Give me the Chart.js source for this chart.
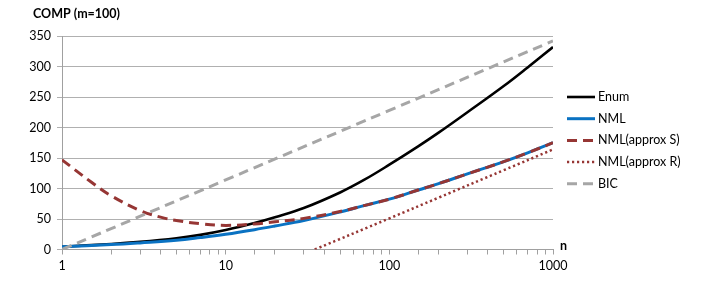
<!DOCTYPE html>
<html>
<head>
<meta charset="utf-8">
<script src="https://cdn.jsdelivr.net/npm/chart.js@4/dist/chart.umd.min.js"></script>
<style>
html,body{margin:0;padding:0;background:#fff;}
#wrap{width:706px;height:283px;position:relative;}
</style>
</head>
<body>
<div id="wrap"><canvas id="c" width="706" height="283"></canvas></div>
<script>
// ---- data ----
const yTitle = "COMP (m=100)";
const xTitle = "n";
const seriesNames = ["Enum", "NML", "NML(approx S)", "NML(approx R)", "BIC"];

const nMain = [1, 2, 3, 5, 7, 10, 15, 20, 30, 50, 70, 100, 150, 200, 300, 500, 700, 1000];
const enumVals = [4.6, 9, 12.5, 18.5, 24, 32, 43.5, 53, 68, 93.5, 114, 139, 169, 191.5, 225, 268, 298.5, 332];
const nmlVals  = [4.6, 8, 10.8, 15, 19.5, 25, 32.5, 38.5, 47.5, 61.5, 72, 82.5, 97.5, 108, 124, 144, 158.5, 175];

const nApproxS = [1, 1.5, 2, 3, 4, 5, 7, 10, 15, 20, 30, 50, 70, 100, 150, 200, 300, 500, 700, 1000];
const approxSVals = [147, 111, 88, 64, 53, 47.5, 42.3, 39.5, 42, 45.4, 51, 62.3, 72, 82.5, 97.5, 108, 124, 144, 158.5, 175];

const nApproxR = [35, 100, 200, 500, 1000];
const approxRVals = [0, 51, 85, 130, 164];

const nBic = [1, 10, 100, 1000];
const bicVals = [0, 114, 228, 342];

const xTickLabels = [1, 10, 100, 1000];

function pts(xs, ys){ return xs.map((x,i)=>({x:x, y:ys[i]})); }

const FONT = "Lato, 'Open Sans', 'DejaVu Sans', sans-serif";

const styles = [
  {color:'#000000', width:2.6, dash:[]},
  {color:'#0a72c2', width:3, dash:[]},
  {color:'#963634', width:3, dash:[10,6]},
  {color:'#963634', width:2.5, dash:[2.2,2.8]},
  {color:'#a6a6a6', width:3, dash:[10,6]}
];

const datasets = [
  pts(nMain, enumVals),
  pts(nMain, nmlVals),
  pts(nApproxS, approxSVals),
  pts(nApproxR, approxRVals),
  pts(nBic, bicVals)
].map((d,i)=>({
  label: seriesNames[i],
  data: d,
  borderColor: styles[i].color,
  backgroundColor: styles[i].color,
  borderWidth: styles[i].width,
  borderDash: styles[i].dash,
  pointRadius: 0,
  fill: false,
  tension: 0.4,
  order: 5 - i
}));

const legendPlugin = {
  id: 'customLegend',
  afterDraw(chart){
    const ctx = chart.ctx;
    const area = chart.chartArea;
    ctx.save();
    ctx.font = "bold 12.5px " + FONT;
    ctx.fillStyle = '#000';
    ctx.textBaseline = 'middle';
    ctx.textAlign = 'left';
    ctx.fillText(yTitle, 33, 14);
    ctx.fillText(xTitle, area.right + 7, area.bottom - 4);
    ctx.font = "12.5px " + FONT;
    const x0 = area.right + 14, x1 = area.right + 42, tx = area.right + 45;
    chart.data.datasets.forEach((ds, i) => {
      const y = 97 + i * 21.7;
      ctx.beginPath();
      ctx.strokeStyle = ds.borderColor;
      ctx.lineWidth = ds.borderWidth;
      ctx.setLineDash(ds.borderDash || []);
      ctx.moveTo(x0, y);
      ctx.lineTo(x1, y);
      ctx.stroke();
      ctx.setLineDash([]);
      ctx.fillStyle = '#000';
      ctx.fillText(ds.label, tx, y);
    });
    ctx.restore();
  }
};

new Chart(document.getElementById('c'), {
  type: 'line',
  data: { datasets: datasets },
  options: {
    responsive: false,
    animation: false,
    events: [],
    layout: { padding: { left: 0, top: 36, right: 153, bottom: 0 } },
    plugins: { legend: { display: false }, tooltip: { enabled: false }, title: { display: false } },
    scales: {
      x: {
        type: 'logarithmic',
        min: 1, max: 1000,
        afterFit(s){ s.height = 33.5; },
        border: { display: true, color: '#a0a0a0', width: 1 },
        grid: { display: true, drawOnChartArea: false, drawTicks: true, tickLength: 5, color: '#a0a0a0' },
        ticks: {
          autoSkip: false, maxRotation: 0, padding: 4,
          color: '#000', font: { family: FONT, size: 12.5 },
          callback(v){ return xTickLabels.includes(v) ? String(v) : ''; }
        }
      },
      y: {
        type: 'linear',
        min: 0, max: 350,
        afterFit(s){ s.width = 62; },
        border: { display: true, color: '#a0a0a0', width: 1 },
        grid: { display: true, drawOnChartArea: true, drawTicks: true, tickLength: 5, color: '#b0b0b0' },
        ticks: { stepSize: 50, padding: 6, color: '#000', font: { family: FONT, size: 12.5 } }
      }
    }
  },
  plugins: [legendPlugin]
});
</script>
</body>
</html>
